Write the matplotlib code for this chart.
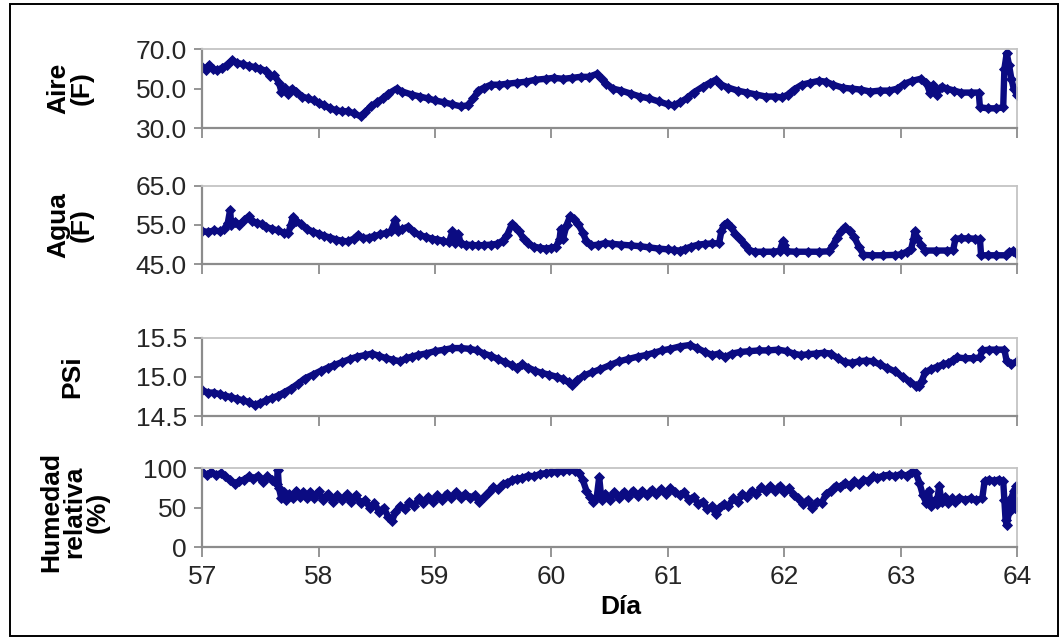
import matplotlib
matplotlib.use("Agg")
import matplotlib.pyplot as plt
from matplotlib.patches import Rectangle
from matplotlib.ticker import FormatStrFormatter

# Aire (F)
aire_dia = [57.00, 57.03, 57.06, 57.09, 57.13, 57.17, 57.21, 57.26, 57.30, 57.35, 57.40, 57.45,
            57.50, 57.55, 57.58, 57.62, 57.66, 57.68, 57.71, 57.74, 57.77, 57.81, 57.86, 57.91,
            57.96, 58.00, 58.05, 58.10, 58.15, 58.20, 58.25, 58.30, 58.36, 58.40, 58.45, 58.50,
            58.55, 58.60, 58.67, 58.72, 58.80, 58.87, 58.94, 59.00, 59.08, 59.15, 59.22, 59.28,
            59.33, 59.37, 59.42, 59.48, 59.55, 59.62, 59.70, 59.78, 59.86, 59.95, 60.02, 60.10,
            60.18, 60.25, 60.32, 60.39, 60.43, 60.47, 60.53, 60.60, 60.68, 60.76, 60.84, 60.92,
            61.00, 61.05, 61.10, 61.16, 61.22, 61.30, 61.36, 61.41, 61.46, 61.52, 61.60, 61.68,
            61.76, 61.84, 61.92, 61.98, 62.03, 62.08, 62.15, 62.22, 62.30, 62.36, 62.42, 62.50,
            62.58, 62.66, 62.74, 62.82, 62.90, 62.97, 63.03, 63.10, 63.17, 63.22, 63.25, 63.28,
            63.31, 63.35, 63.40, 63.46, 63.52, 63.60, 63.67, 63.68, 63.75, 63.82, 63.88, 63.89,
            63.91, 63.93, 63.95, 63.97, 64.00]
aire = [61.0, 59.5, 62.0, 60.0, 59.5, 60.5, 62.0, 64.5, 63.0, 62.5, 61.5, 61.0,
        60.0, 59.0, 56.5, 57.0, 53.0, 48.5, 50.5, 47.5, 50.0, 48.5, 46.0, 45.0,
        44.0, 42.5, 41.5, 40.0, 39.0, 38.5, 38.5, 37.5, 36.0, 38.0, 41.0, 43.0,
        45.0, 47.5, 50.0, 48.5, 47.0, 46.0, 45.0, 44.0, 43.0, 42.0, 41.0, 41.5,
        45.0, 49.0, 50.5, 52.0, 52.0, 52.5, 53.0, 53.5, 54.5, 55.0, 55.5, 55.0,
        55.5, 56.0, 56.0, 57.5, 55.0, 52.5, 50.0, 49.0, 47.5, 46.0, 45.0, 43.5,
        42.0, 41.5, 43.0, 45.0, 48.0, 51.0, 53.0, 54.5, 52.0, 50.5, 49.0, 48.0,
        47.0, 46.0, 46.0, 45.5, 47.0, 49.5, 52.0, 53.0, 54.0, 53.5, 52.0, 50.5,
        50.0, 49.5, 48.5, 49.0, 49.0, 50.0, 52.5, 54.0, 55.0, 53.0, 48.0, 52.0,
        47.0, 51.0, 50.0, 49.0, 48.0, 48.0, 48.0, 40.5, 40.0, 40.0, 40.5, 60.0,
        68.0, 62.0, 55.0, 50.0, 47.0]

# Agua (F)
agua_dia = [57.00, 57.05, 57.10, 57.15, 57.19, 57.22, 57.24, 57.25, 57.28, 57.32, 57.36, 57.40,
            57.43, 57.47, 57.51, 57.55, 57.60, 57.65, 57.70, 57.74, 57.76, 57.78, 57.81, 57.85,
            57.90, 57.95, 58.00, 58.05, 58.10, 58.15, 58.20, 58.25, 58.30, 58.34, 58.38, 58.43,
            58.48, 58.53, 58.58, 58.62, 58.66, 58.68, 58.72, 58.77, 58.82, 58.87, 58.92, 58.97,
            59.02, 59.07, 59.12, 59.15, 59.17, 59.20, 59.22, 59.27, 59.32, 59.37, 59.42, 59.48,
            59.53, 59.58, 59.62, 59.66, 59.69, 59.72, 59.76, 59.80, 59.85, 59.90, 59.95, 60.00,
            60.04, 60.07, 60.08, 60.10, 60.13, 60.16, 60.19, 60.23, 60.27, 60.30, 60.34, 60.40,
            60.46, 60.52, 60.60, 60.68, 60.76, 60.84, 60.92, 61.00, 61.05, 61.10, 61.15, 61.20,
            61.26, 61.32, 61.38, 61.44, 61.46, 61.48, 61.51, 61.54, 61.58, 61.62, 61.66, 61.70,
            61.75, 61.82, 61.90, 61.96, 61.99, 62.00, 62.02, 62.10, 62.20, 62.30, 62.38, 62.42,
            62.45, 62.49, 62.52, 62.56, 62.60, 62.64, 62.68, 62.75, 62.85, 62.95, 63.00, 63.05,
            63.09, 63.11, 63.12, 63.14, 63.17, 63.21, 63.30, 63.40, 63.45, 63.47, 63.52, 63.58,
            63.64, 63.68, 63.69, 63.75, 63.82, 63.90, 63.93, 63.96, 64.00]
agua = [53.5, 53.2, 53.6, 53.4, 54.0, 55.5, 58.8, 55.0, 55.8, 55.0, 56.2, 57.2,
        56.0, 55.5, 55.2, 54.5, 54.0, 53.6, 53.0, 52.9, 55.0, 57.0, 56.0, 55.2,
        54.0, 53.3, 52.8, 52.2, 51.8, 51.3, 51.0, 50.8, 51.5, 52.5, 51.6, 51.8,
        52.2, 52.6, 53.0, 53.4, 56.2, 53.5, 54.0, 54.6, 53.2, 52.4, 52.0, 51.5,
        51.3, 51.0, 50.6, 53.4, 50.4, 52.8, 50.3, 50.0, 49.9, 49.8, 49.9, 50.0,
        50.2, 51.0, 52.5, 55.2, 54.6, 53.5, 51.5, 50.3, 49.5, 49.2, 49.0, 49.2,
        49.5, 51.5, 54.0, 51.5, 55.0, 57.2, 56.5, 55.2, 53.0, 50.8, 49.8, 50.0,
        50.4, 50.2, 50.0, 49.8, 49.6, 49.3, 49.0, 48.8, 48.6, 48.5, 49.0, 49.5,
        50.0, 50.2, 50.3, 50.4, 53.5, 55.0, 55.6, 54.5, 52.8, 51.5, 50.0, 48.6,
        48.2, 48.2, 48.2, 48.4, 51.0, 50.0, 48.3, 48.2, 48.2, 48.2, 48.3, 50.0,
        51.8, 53.5, 54.5, 53.4, 52.0, 49.5, 47.4, 47.3, 47.3, 47.4, 47.5, 48.2,
        49.0, 51.5, 53.4, 51.8, 50.0, 48.5, 48.5, 48.5, 48.6, 51.5, 51.6, 51.6,
        51.5, 51.4, 47.3, 47.3, 47.3, 47.3, 48.2, 48.4, 47.6]

# PSi
psi_dia = [57.00, 57.05, 57.10, 57.15, 57.20, 57.25, 57.30, 57.35, 57.40, 57.45, 57.50, 57.55,
           57.60, 57.65, 57.70, 57.76, 57.82, 57.88, 57.95, 58.02, 58.08, 58.13, 58.20, 58.27,
           58.33, 58.40, 58.46, 58.52, 58.58, 58.64, 58.70, 58.75, 58.80, 58.85, 58.92, 59.00,
           59.08, 59.15, 59.22, 59.30, 59.36, 59.42, 59.48, 59.54, 59.60, 59.66, 59.70, 59.75,
           59.80, 59.86, 59.92, 59.98, 60.05, 60.10, 60.15, 60.18, 60.22, 60.28, 60.35, 60.42,
           60.50, 60.58, 60.66, 60.74, 60.81, 60.88, 60.95, 61.02, 61.10, 61.19, 61.25, 61.32,
           61.38, 61.44, 61.49, 61.55, 61.62, 61.70, 61.78, 61.86, 61.95, 62.02, 62.08, 62.14,
           62.20, 62.27, 62.34, 62.40, 62.46, 62.52, 62.58, 62.64, 62.70, 62.76, 62.82, 62.88,
           62.95, 63.02, 63.08, 63.13, 63.16, 63.18, 63.21, 63.26, 63.31, 63.36, 63.41, 63.45,
           63.48, 63.55, 63.62, 63.68, 63.70, 63.76, 63.82, 63.89, 63.91, 63.95, 64.00]
psi = [14.83, 14.80, 14.80, 14.78, 14.76, 14.74, 14.72, 14.70, 14.68, 14.64, 14.67, 14.70,
       14.73, 14.76, 14.80, 14.85, 14.91, 14.98, 15.03, 15.08, 15.12, 15.15, 15.19, 15.23,
       15.26, 15.28, 15.30, 15.27, 15.24, 15.22, 15.20, 15.24, 15.26, 15.28, 15.30, 15.33,
       15.35, 15.37, 15.37, 15.36, 15.34, 15.30, 15.27, 15.23, 15.19, 15.15, 15.12, 15.16,
       15.12, 15.08, 15.05, 15.03, 15.00, 14.97, 14.93, 14.90, 14.96, 15.02, 15.06, 15.10,
       15.15, 15.20, 15.23, 15.26, 15.28, 15.31, 15.34, 15.36, 15.39, 15.41, 15.37, 15.32,
       15.28, 15.30, 15.25, 15.30, 15.32, 15.33, 15.34, 15.34, 15.35, 15.33, 15.30, 15.28,
       15.29, 15.30, 15.31, 15.30, 15.24, 15.19, 15.18, 15.20, 15.21, 15.20, 15.16, 15.12,
       15.07, 15.00, 14.94, 14.89, 14.88, 14.95, 15.06, 15.10, 15.13, 15.16, 15.18, 15.22,
       15.25, 15.24, 15.24, 15.25, 15.34, 15.35, 15.35, 15.35, 15.20, 15.17, 15.20]

# Humedad relativa (%)
hr_dia = [57.00, 57.04, 57.08, 57.12, 57.16, 57.20, 57.24, 57.28, 57.32, 57.36, 57.40, 57.44,
          57.48, 57.52, 57.56, 57.60, 57.64, 57.65, 57.66, 57.68, 57.70, 57.72, 57.75, 57.78,
          57.81, 57.84, 57.87, 57.90, 57.93, 57.96, 58.00, 58.04, 58.08, 58.12, 58.16, 58.20,
          58.24, 58.28, 58.32, 58.36, 58.40, 58.44, 58.48, 58.52, 58.56, 58.60, 58.63, 58.66,
          58.70, 58.74, 58.78, 58.82, 58.86, 58.90, 58.94, 58.98, 59.02, 59.06, 59.10, 59.14,
          59.18, 59.22, 59.26, 59.30, 59.34, 59.38, 59.42, 59.46, 59.50, 59.54, 59.58, 59.62,
          59.66, 59.70, 59.75, 59.80, 59.85, 59.90, 59.95, 60.00, 60.05, 60.10, 60.15, 60.20,
          60.24, 60.27, 60.30, 60.33, 60.36, 60.39, 60.41, 60.43, 60.46, 60.50, 60.54, 60.58,
          60.62, 60.66, 60.70, 60.74, 60.78, 60.82, 60.86, 60.90, 60.94, 60.98, 61.02, 61.06,
          61.10, 61.14, 61.18, 61.22, 61.26, 61.30, 61.34, 61.38, 61.41, 61.44, 61.48, 61.52,
          61.56, 61.60, 61.64, 61.68, 61.72, 61.76, 61.80, 61.84, 61.88, 61.92, 61.96, 62.00,
          62.04, 62.08, 62.12, 62.16, 62.20, 62.24, 62.28, 62.32, 62.36, 62.40, 62.44, 62.48,
          62.52, 62.56, 62.60, 62.64, 62.68, 62.72, 62.76, 62.80, 62.85, 62.90, 62.95, 63.00,
          63.05, 63.10, 63.13, 63.16, 63.19, 63.22, 63.24, 63.26, 63.29, 63.31, 63.33, 63.35,
          63.38, 63.41, 63.44, 63.47, 63.50, 63.55, 63.60, 63.65, 63.70, 63.72, 63.76, 63.80,
          63.84, 63.88, 63.89, 63.90, 63.91, 63.93, 63.95, 63.97, 63.98, 63.99, 64.00]
hr = [95, 92, 95, 92, 94, 90, 85, 80, 84, 86, 90, 87,
      91, 83, 90, 86, 80, 98, 75, 62, 70, 60, 68, 62,
      72, 64, 70, 62, 70, 63, 71, 60, 68, 57, 66, 60,
      67, 58, 66, 56, 60, 50, 56, 45, 50, 38, 33, 45,
      52, 48, 58, 52, 62, 56, 64, 58, 66, 60, 68, 62,
      70, 63, 68, 62, 66, 57, 64, 70, 76, 74, 80, 82,
      85, 87, 88, 91, 90, 93, 94, 95, 96, 97, 98, 97,
      94, 85, 72, 64, 58, 65, 89, 60, 68, 60, 70, 62,
      70, 64, 72, 65, 72, 66, 73, 67, 74, 68, 75, 70,
      66, 70, 60, 64, 55, 58, 48, 52, 42, 50, 55, 52,
      62, 58, 68, 64, 72, 68, 76, 72, 78, 72, 78, 70,
      75, 66, 62, 55, 60, 50, 58, 56, 68, 72, 78, 76,
      82, 78, 84, 80, 86, 84, 90, 88, 91, 92, 90, 93,
      91, 96, 94, 82, 66, 56, 72, 52, 60, 55, 78, 58,
      64, 56, 62, 58, 63, 60, 62, 60, 62, 84, 86, 84,
      86, 84, 60, 35, 28, 45, 62, 72, 50, 78, 58]

PANELS = [
    (aire_dia, aire, "Aire\n(F)", (30, 70), [30, 50, 70], "%.1f"),
    (agua_dia, agua, "Agua\n(F)", (45, 65), [45, 55, 65], "%.1f"),
    (psi_dia, psi, "PSi", (14.5, 15.5), [14.5, 15.0, 15.5], "%.1f"),
    (hr_dia, hr, "Humedad\nrelativa\n(%)", (0, 100), [0, 50, 100], "%d"),
]
# axes boxes in figure fraction: left, bottom, width, height
BOXES = [(0.190, 0.800, 0.766, 0.123),
         (0.190, 0.587, 0.766, 0.123),
         (0.190, 0.350, 0.766, 0.122),
         (0.190, 0.145, 0.766, 0.123)]
LABEL_X = [0.066, 0.066, 0.068, 0.070]
LABEL_Y = [0.862, 0.649, 0.411, 0.200]

NAVY = "#0b0b82"
plt.rcParams["font.family"] = ["Liberation Sans", "DejaVu Sans"]

fig = plt.figure(figsize=(10.64, 6.4), dpi=100)
fig.patch.set_facecolor("white")
fig.patches.append(Rectangle((0.009, 0.006), 0.985, 0.988, transform=fig.transFigure,
                             fill=False, edgecolor="black", linewidth=1.4))

for i, ((x, y, label, ylim, yticks, fmt), box) in enumerate(zip(PANELS, BOXES)):
    ax = fig.add_axes(box)
    ax.plot(x, y, color=NAVY, linewidth=4.6, marker="D", markersize=5,
            markeredgewidth=0.6, solid_joinstyle="round")
    ax.set_xlim(57, 64)
    ax.set_ylim(*ylim)
    ax.set_xticks(range(57, 65))
    ax.set_yticks(yticks)
    ax.yaxis.set_major_formatter(FormatStrFormatter(fmt))
    for side in ("left", "bottom"):
        ax.spines[side].set_color("#8c8c8c")
        ax.spines[side].set_linewidth(1.6)
    for side in ("top", "right"):
        ax.spines[side].set_color("#c4c4c4")
        ax.spines[side].set_linewidth(1.3)
    ax.tick_params(axis="y", direction="out", length=6, width=1.3, color="#8c8c8c",
                   labelsize=19, labelcolor="#262626", pad=5)
    ax.tick_params(axis="x", direction="out", length=7, width=1.3, color="#8c8c8c",
                   labelsize=19, labelcolor="#262626", pad=6)
    if i < 3:
        ax.tick_params(axis="x", labelbottom=False)
    fig.text(LABEL_X[i], LABEL_Y[i], label, rotation=90, ha="center", va="center",
             fontsize=19, fontweight="bold", linespacing=0.95)

fig.text(0.583, 0.052, "Día", ha="center", va="center", fontsize=19, fontweight="bold")

fig.savefig("out.png", dpi=100)
